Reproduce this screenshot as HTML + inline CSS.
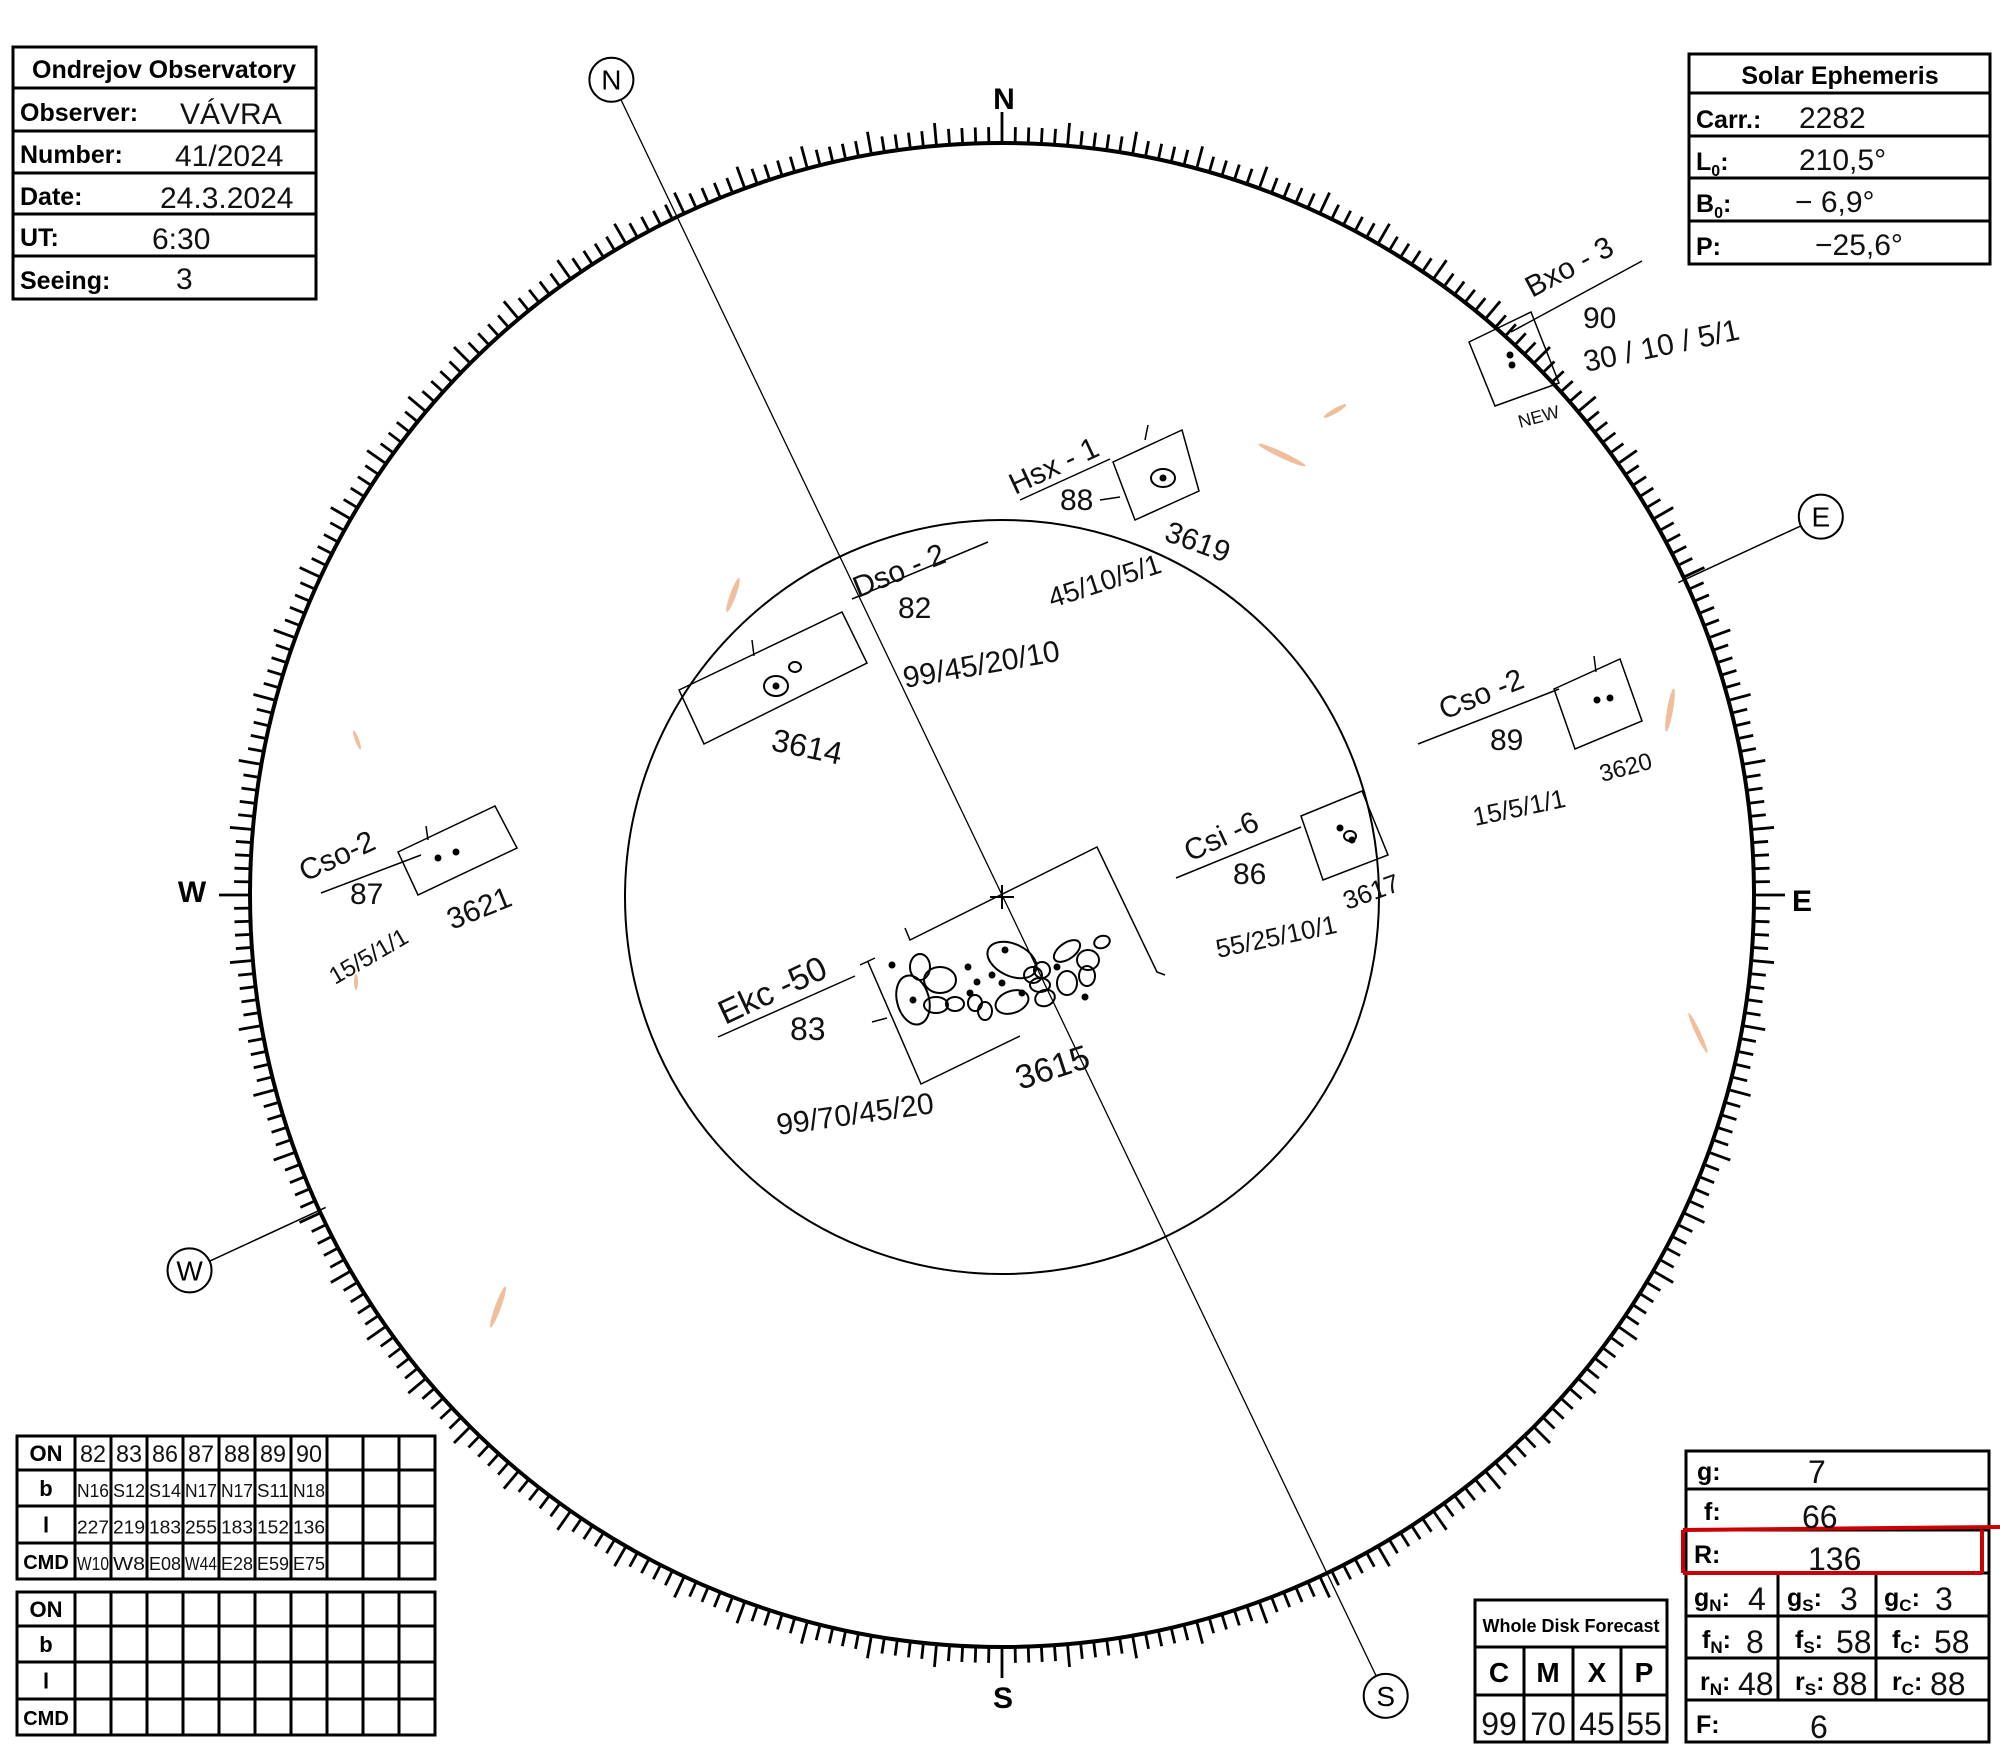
<!DOCTYPE html>
<html><head><meta charset="utf-8"><style>
html,body{margin:0;padding:0;background:#fff;}
svg{display:block;}
.hb{font-family:"Liberation Sans",sans-serif;font-weight:bold;fill:#000;}
.hw{font-family:"Liberation Sans",sans-serif;fill:#111;font-weight:normal;}
</style></head><body>
<svg id="root" width="2000" height="1747" viewBox="0 0 2000 1747" xmlns="http://www.w3.org/2000/svg">
<rect width="2000" height="1747" fill="#fff"/>
<g id="disk">
  <circle cx="1002" cy="895" r="752" fill="none" stroke="#000" stroke-width="4"/>
  <g id="ticks"></g>
  <circle cx="1002" cy="897" r="377" fill="none" stroke="#000" stroke-width="2"/>
  <path d="M990 897 H1014 M1002 885 V909" stroke="#000" stroke-width="2"/>
  <line id="nsline" stroke="#000" stroke-width="1.3"/>
  <line id="eline" stroke="#000" stroke-width="1.5"/>
  <line id="wline" stroke="#000" stroke-width="1.5"/>
  <g id="markers"></g>
  <text class="hb" x="1004" y="109" font-size="30" text-anchor="middle">N</text>
  <text class="hb" x="192" y="902" font-size="30" text-anchor="middle">W</text>
  <text class="hb" x="1802" y="911" font-size="30" text-anchor="middle">E</text>
  <text class="hb" x="1003" y="1708" font-size="30" text-anchor="middle">S</text>
</g>

<g fill="none" stroke="#000" stroke-width="1.5">
  <polygon points="1469,342 1531,312 1559,383 1495,406"/>
  <line x1="1511" y1="332" x2="1642" y2="261"/>
  <polygon points="1113,462 1182,430 1199,491 1135,520"/>
  <line x1="1020" y1="500" x2="1110" y2="459"/>
  <line x1="1148" y1="425" x2="1145" y2="440"/><line x1="1100" y1="500" x2="1120" y2="497"/>
  <polygon points="679,690 842,612 867,663 704,744"/>
  <line x1="852" y1="599" x2="988" y2="542"/>
  <line x1="752" y1="640" x2="754" y2="656"/>
  <polygon points="1554,689 1620,659 1642,721 1575,749"/>
  <line x1="1418" y1="744" x2="1559" y2="689"/>
  <line x1="1594" y1="656" x2="1596" y2="672"/>
  <polygon points="1301,816 1362,791 1388,855 1323,880"/>
  <line x1="1176" y1="878" x2="1301" y2="827"/>
  <polygon points="398,852 495,806 517,848 418,895"/>
  <line x1="321" y1="893" x2="421" y2="855"/>
  <line x1="426" y1="826" x2="428" y2="840"/>
  <path d="M905,928 L910,940 L1097,847 L1157,972 L1165,975"/>
  <path d="M860,965 L875,958 M868,962 L921,1084 L1020,1036" />
  <line x1="718" y1="1037" x2="855" y2="976"/>
  <line x1="872" y1="1022" x2="887" y2="1018"/>
</g>

<g fill="none" stroke="#000" stroke-width="2" id="spots"></g>

<g class="hw" font-size="30">
  <text transform="translate(1532,298) rotate(-28)">Bxo - 3</text>
  <text x="1583" y="328">90</text>
  <text transform="translate(1586,372) rotate(-12)">30 / 10 / 5/1</text>
  <text transform="translate(1520,428) rotate(-15)" font-size="18">NEW</text>
  <text transform="translate(1015,495) rotate(-25)">Hsx - 1</text>
  <text x="1060" y="510">88</text>
  <text transform="translate(1163,540) rotate(20)">3619</text>
  <text transform="translate(1052,608) rotate(-18)" font-size="28">45/10/5/1</text>
  <text transform="translate(858,598) rotate(-22)">Dso - 2</text>
  <text x="898" y="618">82</text>
  <text transform="translate(770,750) rotate(12)" font-size="32">3614</text>
  <text transform="translate(905,688) rotate(-10)">99/45/20/10</text>
  <text transform="translate(1444,720) rotate(-22)">Cso -2</text>
  <text x="1490" y="750">89</text>
  <text transform="translate(1602,782) rotate(-15)" font-size="24">3620</text>
  <text transform="translate(1475,826) rotate(-12)" font-size="26">15/5/1/1</text>
  <text transform="translate(1190,862) rotate(-25)">Csi -6</text>
  <text x="1233" y="884">86</text>
  <text transform="translate(1347,910) rotate(-20)" font-size="26">3617</text>
  <text transform="translate(1218,958) rotate(-12)" font-size="26">55/25/10/1</text>
  <text transform="translate(305,882) rotate(-25)">Cso-2</text>
  <text x="350" y="904">87</text>
  <text transform="translate(452,930) rotate(-22)">3621</text>
  <text transform="translate(335,985) rotate(-30)" font-size="24">15/5/1/1</text>
  <text transform="translate(725,1025) rotate(-25)" font-size="34">Ekc -50</text>
  <text x="790" y="1040" font-size="32">83</text>
  <text transform="translate(1020,1090) rotate(-18)" font-size="34">3615</text>
  <text transform="translate(778,1135) rotate(-8)" font-size="30">99/70/45/20</text>
</g>

<g fill="#e07a3a" opacity="0.5">
  <ellipse cx="733" cy="595" rx="3" ry="18" transform="rotate(20 733 595)"/>
  <ellipse cx="357" cy="740" rx="2" ry="10" transform="rotate(-20 357 740)"/>
  <ellipse cx="1282" cy="455" rx="26" ry="3" transform="rotate(25 1282 455)"/>
  <ellipse cx="1335" cy="411" rx="13" ry="2.5" transform="rotate(-30 1335 411)"/>
  <ellipse cx="1670" cy="710" rx="3" ry="22" transform="rotate(10 1670 710)"/>
  <ellipse cx="1698" cy="1033" rx="2.5" ry="22" transform="rotate(-25 1698 1033)"/>
  <ellipse cx="498" cy="1307" rx="3" ry="22" transform="rotate(20 498 1307)"/>
  <ellipse cx="356" cy="982" rx="2" ry="8"/>
</g>

<g>
  <rect x="13" y="47" width="303" height="252" fill="none" stroke="#000" stroke-width="3"/>
  <g stroke="#000" stroke-width="3"><line x1="13" y1="88" x2="316" y2="88"/><line x1="13" y1="131" x2="316" y2="131"/><line x1="13" y1="173" x2="316" y2="173"/><line x1="13" y1="214" x2="316" y2="214"/><line x1="13" y1="256" x2="316" y2="256"/></g>
  <text class="hb" x="164" y="78" font-size="25" text-anchor="middle">Ondrejov Observatory</text>
  <text class="hb" x="20" y="121" font-size="25">Observer:</text>
  <text class="hb" x="20" y="163" font-size="25">Number:</text>
  <text class="hb" x="20" y="205" font-size="25">Date:</text>
  <text class="hb" x="20" y="246" font-size="25">UT:</text>
  <text class="hb" x="20" y="289" font-size="25">Seeing:</text>
  <g class="hw" font-size="30"><text x="180" y="124">VÁVRA</text><text x="175" y="166">41/2024</text><text x="160" y="208">24.3.2024</text><text x="152" y="249">6:30</text><text x="176" y="289">3</text></g>
</g>

<g>
  <rect x="1689" y="54" width="301" height="210" fill="none" stroke="#000" stroke-width="3"/>
  <g stroke="#000" stroke-width="3"><line x1="1689" y1="93" x2="1990" y2="93"/><line x1="1689" y1="136" x2="1990" y2="136"/><line x1="1689" y1="178" x2="1990" y2="178"/><line x1="1689" y1="221" x2="1990" y2="221"/></g>
  <text class="hb" x="1840" y="84" font-size="25" text-anchor="middle">Solar Ephemeris</text>
  <text class="hb" x="1696" y="128" font-size="25">Carr.:</text>
  <text class="hb" x="1696" y="170" font-size="25">L<tspan font-size="16" dy="6">0</tspan><tspan dy="-6">:</tspan></text>
  <text class="hb" x="1696" y="212" font-size="25">B<tspan font-size="16" dy="6">0</tspan><tspan dy="-6">:</tspan></text>
  <text class="hb" x="1696" y="255" font-size="25">P:</text>
  <g class="hw" font-size="30"><text x="1799" y="128">2282</text><text x="1799" y="170">210,5°</text><text x="1795" y="212">− 6,9°</text><text x="1815" y="255">−25,6°</text></g>
</g>

<g id="tables"></g>

<g>
  <rect x="1475" y="1600" width="192" height="142" fill="none" stroke="#000" stroke-width="3"/>
  <g stroke="#000" stroke-width="3"><line x1="1475" y1="1647" x2="1667" y2="1647"/><line x1="1475" y1="1695" x2="1667" y2="1695"/><line x1="1524" y1="1647" x2="1524" y2="1742"/><line x1="1573" y1="1647" x2="1573" y2="1742"/><line x1="1621" y1="1647" x2="1621" y2="1742"/></g>
  <text class="hb" x="1571" y="1632" font-size="18" text-anchor="middle">Whole Disk Forecast</text>
  <g class="hb" font-size="28" text-anchor="middle"><text x="1499" y="1682">C</text><text x="1548" y="1682">M</text><text x="1597" y="1682">X</text><text x="1644" y="1682">P</text></g>
  <g class="hw" font-size="32" text-anchor="middle"><text x="1499" y="1735">99</text><text x="1548" y="1735">70</text><text x="1597" y="1735">45</text><text x="1644" y="1735">55</text></g>
</g>

<g>
  <rect x="1686" y="1451" width="303" height="291" fill="none" stroke="#000" stroke-width="3"/>
  <g stroke="#000" stroke-width="3"><line x1="1686" y1="1489" x2="1989" y2="1489"/><line x1="1686" y1="1530" x2="1989" y2="1530"/><line x1="1686" y1="1573" x2="1989" y2="1573"/><line x1="1686" y1="1616" x2="1989" y2="1616"/><line x1="1686" y1="1658" x2="1989" y2="1658"/><line x1="1686" y1="1700" x2="1989" y2="1700"/><line x1="1778" y1="1573" x2="1778" y2="1700"/><line x1="1876" y1="1573" x2="1876" y2="1700"/></g>
  <path d="M1683,1530 L2000,1527 M1683,1573 L1982,1573 M1683,1530 L1683,1573 M1982,1530 L1982,1573" stroke="#c00" stroke-width="4" fill="none"/>
  <g class="hb" font-size="25"><text x="1697" y="1480">g:</text><text x="1704" y="1520">f:</text><text x="1694" y="1563">R:</text><text x="1696" y="1733">F:</text>
  <text x="1694" y="1606">g<tspan font-size="17" dy="5">N</tspan><tspan dy="-5">:</tspan></text>
  <text x="1787" y="1606">g<tspan font-size="17" dy="5">S</tspan><tspan dy="-5">:</tspan></text>
  <text x="1884" y="1606">g<tspan font-size="17" dy="5">C</tspan><tspan dy="-5">:</tspan></text>
  <text x="1702" y="1648">f<tspan font-size="17" dy="5">N</tspan><tspan dy="-5">:</tspan></text>
  <text x="1795" y="1648">f<tspan font-size="17" dy="5">S</tspan><tspan dy="-5">:</tspan></text>
  <text x="1892" y="1648">f<tspan font-size="17" dy="5">C</tspan><tspan dy="-5">:</tspan></text>
  <text x="1700" y="1690">r<tspan font-size="17" dy="5">N</tspan><tspan dy="-5">:</tspan></text>
  <text x="1795" y="1690">r<tspan font-size="17" dy="5">S</tspan><tspan dy="-5">:</tspan></text>
  <text x="1892" y="1690">r<tspan font-size="17" dy="5">C</tspan><tspan dy="-5">:</tspan></text></g>
  <g class="hw" font-size="32"><text x="1808" y="1483">7</text><text x="1802" y="1528">66</text><text x="1808" y="1570">136</text><text x="1810" y="1738">6</text>
  <text x="1748" y="1610">4</text><text x="1840" y="1610">3</text><text x="1935" y="1610">3</text>
  <text x="1746" y="1653">8</text><text x="1836" y="1653">58</text><text x="1934" y="1653">58</text>
  <text x="1738" y="1695">48</text><text x="1832" y="1695">88</text><text x="1930" y="1695">88</text></g>
</g>
</svg>
<script>
const NS='http://www.w3.org/2000/svg';
const CX=1002, CY=895, R=752;
const tickCount=[360];
const markerLabels=['N','E','S','W'];
const markerDist=[904,902,888,895];
const pAngle=[-25.6];
const ewAngle=[-24.8];
const tableLabels=['ON','b','l','CMD'];
const tableON=['82','83','86','87','88','89','90'];
const tableB=['N16','S12','S14','N17','N17','S11','N18'];
const tableL=['227','219','183','255','183','152','136'];
const tableCMD=['W10','W8','E08','W44','E28','E59','E75'];

const ticks=document.getElementById('ticks');
for(let i=0;i<tickCount[0];i++){
  const a=i*Math.PI/180;
  const len=(i%90===0)?31:(i%5===0?23:16);
  const sx=CX+R*Math.sin(a), sy=CY-R*Math.cos(a);
  const ex=CX+(R+len)*Math.sin(a), ey=CY-(R+len)*Math.cos(a);
  const l=document.createElementNS(NS,'line');
  l.setAttribute('x1',sx);l.setAttribute('y1',sy);l.setAttribute('x2',ex);l.setAttribute('y2',ey);
  l.setAttribute('stroke','#000');l.setAttribute('stroke-width','2.8');
  
  
  ticks.appendChild(l);
}
const pr=pAngle[0]*Math.PI/180;
const ux=Math.sin(pr), uy=-Math.cos(pr);
const er=ewAngle[0]*Math.PI/180;
const E=[Math.cos(er),Math.sin(er)];
const D=[[ux,uy],E,[-ux,-uy],[-E[0],-E[1]]];
const mk=document.getElementById('markers');
for(let k=0;k<4;k++){
  const x=CX+markerDist[k]*D[k][0], y=CY+markerDist[k]*D[k][1];
  const c=document.createElementNS(NS,'circle');
  c.setAttribute('cx',x);c.setAttribute('cy',y);c.setAttribute('r',22);
  c.setAttribute('fill','#fff');c.setAttribute('stroke','#000');c.setAttribute('stroke-width','2');
  
  
  mk.appendChild(c);
  const t=document.createElementNS(NS,'text');
  t.setAttribute('x',x);t.setAttribute('y',y+10);t.setAttribute('text-anchor','middle');
  t.setAttribute('font-size','28');t.setAttribute('font-family','"Liberation Sans",sans-serif');
  t.textContent=markerLabels[k];
  
  
  mk.appendChild(t);
}
function setLine(id,x1,y1,x2,y2){const l=document.getElementById(id);l.setAttribute('x1',x1);l.setAttribute('y1',y1);l.setAttribute('x2',x2);l.setAttribute('y2',y2);}
setLine('nsline',CX+(markerDist[0]-22)*ux,CY+(markerDist[0]-22)*uy,CX-(markerDist[2]-22)*ux,CY-(markerDist[2]-22)*uy);
setLine('eline',CX+745*E[0],CY+745*E[1],CX+(markerDist[1]-22)*E[0],CY+(markerDist[1]-22)*E[1]);
setLine('wline',CX-745*E[0],CY-745*E[1],CX-(markerDist[3]-22)*E[0],CY-(markerDist[3]-22)*E[1]);

const spotEll=[[913,1000,16,25,-15],[940,980,16,13,0],[920,967,10,13,0],[1012,960,26,16,25],[1012,1002,17,11,-20],[936,1005,12,8,0],[955,1004,9,7,0],[975,1003,7,8,0],[985,1011,7,9,0],[1033,975,9,8,0],[1042,970,8,8,0],[1040,985,10,7,0],[1045,998,10,8,-20],[1067,951,15,8,-35],[1102,942,8,6,-20],[1088,960,11,10,0],[1067,983,10,12,0],[1087,976,8,10,0],[776,686,12,10,0],[795,667,6,5,0],[1163,478,12,9,0],[1350,836,6,5,0]];
const spotDots=[[968,967],[977,982],[970,993],[992,975],[1002,983],[1022,993],[1057,967],[1085,997],[892,965],[1005,950],[913,1000],[776,686],[1163,478],[1510,355],[1512,365],[1597,700],[1610,698],[1340,828],[1352,840],[438,858],[456,852]];
const sp=document.getElementById('spots');
spotEll.forEach(s=>{const e=document.createElementNS(NS,'ellipse');e.setAttribute('cx',s[0]);e.setAttribute('cy',s[1]);e.setAttribute('rx',s[2]);e.setAttribute('ry',s[3]);e.setAttribute('transform',`rotate(${s[4]} ${s[0]} ${s[1]})`);


sp.appendChild(e);});
spotDots.forEach(s=>{const e=document.createElementNS(NS,'circle');e.setAttribute('cx',s[0]);e.setAttribute('cy',s[1]);e.setAttribute('r',2.5);e.setAttribute('fill','#000');


sp.appendChild(e);});

const tg=document.getElementById('tables');
function mkTable(y0,fill){
  const rows=[y0,y0+34,y0+70,y0+107,y0+143];
  const rect=document.createElementNS(NS,'rect');
  rect.setAttribute('x',17);rect.setAttribute('y',y0);rect.setAttribute('width',418);rect.setAttribute('height',143);
  rect.setAttribute('fill','none');rect.setAttribute('stroke','#000');rect.setAttribute('stroke-width','3');
  
  
  tg.appendChild(rect);
  for(let r=1;r<4;r++){const l=document.createElementNS(NS,'line');l.setAttribute('x1',17);l.setAttribute('x2',435);l.setAttribute('y1',rows[r]);l.setAttribute('y2',rows[r]);l.setAttribute('stroke','#000');l.setAttribute('stroke-width','3');
  
  
  tg.appendChild(l);}
  for(let c=0;c<10;c++){const x=75+c*36;const l=document.createElementNS(NS,'line');l.setAttribute('x1',x);l.setAttribute('x2',x);l.setAttribute('y1',y0);l.setAttribute('y2',y0+143);l.setAttribute('stroke','#000');l.setAttribute('stroke-width','3');
  
  
  tg.appendChild(l);}
  tableLabels.forEach((lab,r)=>{const t=document.createElementNS(NS,'text');t.setAttribute('x',46);t.setAttribute('y',(rows[r]+rows[r+1])/2+8);t.setAttribute('text-anchor','middle');t.setAttribute('class','hb');t.setAttribute('font-size',lab==='CMD'?'20':'22');t.textContent=lab;
  
  
  tg.appendChild(t);});
  if(fill){[tableON,tableB,tableL,tableCMD].forEach((arr,r)=>{arr.forEach((v,c)=>{const t=document.createElementNS(NS,'text');t.setAttribute('x',75+c*36+18);t.setAttribute('y',(rows[r]+rows[r+1])/2+9);t.setAttribute('text-anchor','middle');t.setAttribute('class','hw');t.setAttribute('font-size',r===0?'24':'18');t.setAttribute('textLength',r===0?'26':'32');t.setAttribute('lengthAdjust','spacingAndGlyphs');t.textContent=v;
  
  
  tg.appendChild(t);});});}
}
mkTable(1436,true);
mkTable(1592,false);
</script>
</body></html>
